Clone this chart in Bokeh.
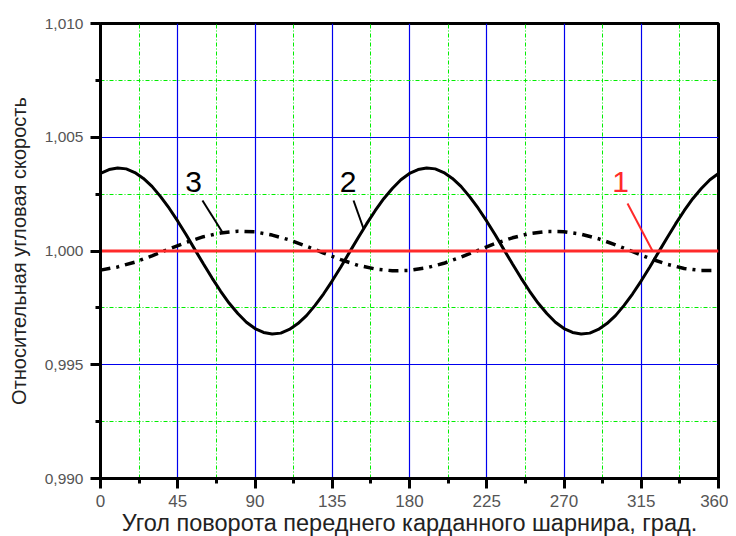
from bokeh.plotting import figure
from bokeh.models import Range1d, FixedTicker, CustomJSTickFormatter, Label
from bokeh.embed import file_html
from bokeh.resources import INLINE

# ---- data ----
angle_fine = [0, 5, 10, 15, 20, 25, 30, 35, 40, 45, 50, 55, 60, 65, 70, 75, 80, 85,
              90, 95, 100, 105, 110, 115, 120, 125, 130, 135, 140, 145, 150, 155, 160, 165, 170, 175,
              180, 185, 190, 195, 200, 205, 210, 215, 220, 225, 230, 235, 240, 245, 250, 255, 260, 265,
              270, 275, 280, 285, 290, 295, 300, 305, 310, 315, 320, 325, 330, 335, 340, 345, 350, 355, 360]
curve2 = [1.00341, 1.00358, 1.00365, 1.00361, 1.00345, 1.00319, 1.00284, 1.00239, 1.00188, 1.00131,
          1.00070, 1.00006, 0.99943, 0.99881, 0.99823, 0.99770, 0.99725, 0.99687,
          0.99659, 0.99642, 0.99635, 0.99639, 0.99655, 0.99681, 0.99716, 0.99761, 0.99812, 0.99869,
          0.99930, 0.99994, 1.00057, 1.00119, 1.00177, 1.00230, 1.00275, 1.00313,
          1.00341, 1.00358, 1.00365, 1.00361, 1.00345, 1.00319, 1.00284, 1.00239, 1.00188, 1.00131,
          1.00070, 1.00006, 0.99943, 0.99881, 0.99823, 0.99770, 0.99725, 0.99687,
          0.99659, 0.99642, 0.99635, 0.99639, 0.99655, 0.99681, 0.99716, 0.99761, 0.99812, 0.99869,
          0.99930, 0.99994, 1.00057, 1.00119, 1.00177, 1.00230, 1.00275, 1.00313, 1.00341]

angle_coarse = [0, 10, 20, 30, 40, 50, 60, 70, 80, 90, 100, 110, 120, 130, 140, 150, 160, 170,
                180, 190, 200, 210, 220, 230, 240, 250, 260, 270, 280, 290, 300, 310, 320, 330, 340, 350, 360]
curve3 = [0.99916, 0.99930, 0.99951, 0.99979, 1.00009, 1.00038, 1.00063, 1.00079, 1.00087, 1.00084,
          1.00070, 1.00049, 1.00021, 0.99991, 0.99962, 0.99937, 0.99921, 0.99913,
          0.99915, 0.99926, 0.99946, 0.99973, 1.00003, 1.00033, 1.00058, 1.00077, 1.00086, 1.00085,
          1.00074, 1.00054, 1.00027, 0.99997, 0.99967, 0.99942, 0.99923, 0.99914, 0.99915]

curve1_x = [0, 360]
curve1 = [1.0, 1.0]

x_major = [0, 45, 90, 135, 180, 225, 270, 315, 360]
x_minor = [22.5, 67.5, 112.5, 157.5, 202.5, 247.5, 292.5, 337.5]
y_major = [0.990, 0.995, 1.000, 1.005, 1.010]
y_minor = [0.9925, 0.9975, 1.0025, 1.0075]

FONT = "Liberation Sans"

p = figure(frame_width=618, frame_height=455, output_backend="svg", toolbar_location=None,
           x_range=Range1d(0, 360), y_range=Range1d(0.99, 1.01),
           min_border_left=100, min_border_top=23, min_border_right=10, min_border_bottom=57)
p.background_fill_color = "white"
p.border_fill_color = "white"
p.outline_line_color = "black"
p.outline_line_width = 3

p.xaxis.ticker = FixedTicker(ticks=x_major, minor_ticks=x_minor)
p.yaxis.ticker = FixedTicker(ticks=y_major, minor_ticks=y_minor)
p.yaxis.formatter = CustomJSTickFormatter(code="return tick.toFixed(3).replace('.', ',');")

for ax in (p.xaxis[0], p.yaxis[0]):
    ax.axis_line_width = 3
    ax.axis_line_color = "black"
    ax.major_tick_line_width = 3
    ax.minor_tick_line_width = 3
    ax.major_tick_out = 10
    ax.major_tick_in = 0
    ax.minor_tick_out = 5
    ax.minor_tick_in = 0
    ax.major_label_text_font = FONT
    ax.major_label_text_color = "#555555"
    ax.axis_label_text_font = FONT
    ax.axis_label_text_font_style = "normal"
    ax.axis_label_text_color = "#222222"

p.xaxis.axis_label = "Угол поворота переднего карданного шарнира, град."
p.yaxis.axis_label = "Относительная угловая скорость"
p.xaxis.major_label_text_font_size = "17px"
p.yaxis.major_label_text_font_size = "15.5px"
p.xaxis.axis_label_text_font_size = "23.5px"
p.yaxis.axis_label_text_font_size = "20px"
p.xaxis.major_label_standoff = 6
p.yaxis.major_label_standoff = 7
p.xaxis.axis_label_standoff = 0
p.yaxis.axis_label_standoff = 12

for g in (p.xgrid[0], p.ygrid[0]):
    g.grid_line_color = "#0000ee"
    g.grid_line_width = 1.2
    g.minor_grid_line_color = "#00ee00"
    g.minor_grid_line_width = 1
    g.minor_grid_line_dash = "4 2 1 2"

p.line(angle_fine, curve2, line_color="black", line_width=3)
p.line(angle_coarse, curve3, line_color="black", line_width=3.5, line_dash="10 6 3 6")
p.line(curve1_x, curve1, line_color="#ff2a2a", line_width=3)

# labels and leader lines
p.add_layout(Label(x=54.2, y=1.00305, text="3", text_font=FONT, text_font_size="30px",
                   text_align="center", text_baseline="middle", text_color="black"))
p.add_layout(Label(x=144.2, y=1.00305, text="2", text_font=FONT, text_font_size="30px",
                   text_align="center", text_baseline="middle", text_color="black"))
p.add_layout(Label(x=302.9, y=1.00305, text="1", text_font=FONT, text_font_size="30px",
                   text_align="center", text_baseline="middle", text_color="#ff2a2a"))
p.segment(x0=[59.4, 147.4], y0=[1.00222, 1.00222], x1=[71.1, 153.2], y1=[1.00081, 1.00099],
          line_color="black", line_width=2)
p.segment(x0=[307.0], y0=[1.00209], x1=[321.6], y1=[1.0000], line_color="#ff2a2a", line_width=2)

open("out.html", "w").write(file_html(p, INLINE))
